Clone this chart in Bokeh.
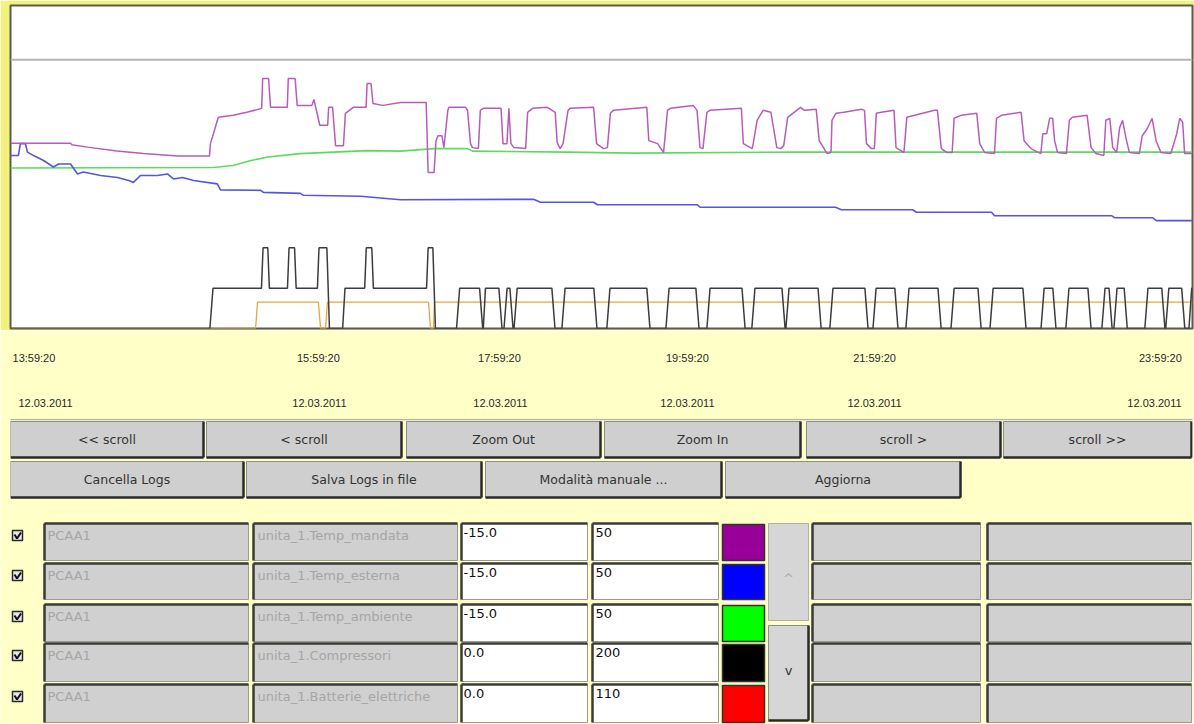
from bokeh.plotting import figure
from bokeh.layouts import column
from bokeh.models import Range1d, LinearAxis, FixedTicker, Span
from bokeh.embed import file_html
from bokeh.resources import INLINE
from bokeh.core.properties import value

# ---------------- data (x = minutes after 12.03.2011 13:59:20) ----------------
mandata_t = [0, 30.5, 31, 39, 54, 67.5, 85, 101, 101.5, 103, 105.5, 113, 120, 127.5, 128, 131, 132,
             140.5, 141, 144.5, 145.5, 153, 154, 157, 161, 161.5, 163.5, 165, 169, 170, 174, 180.5,
             181, 183, 184, 189, 198, 211, 212, 215, 216, 217, 219, 220, 222, 222.5, 231, 232,
             233.5, 234.5, 237.5, 238.5, 240, 249, 250, 252, 253, 254, 255.5, 261.5, 262.5, 265,
             272.5, 276.5, 277.5, 279, 280.5, 283, 284, 296, 297.5, 301, 303, 304.5, 306, 323,
             324, 328.5, 331.5, 333.5, 335, 346.5, 348.5, 350, 351.5, 353.5, 355, 371, 372, 376.5,
             377, 379, 382, 386, 389, 391, 392.5, 394.5, 401, 403, 409, 410.5, 413, 414.5, 416.5,
             417, 419, 423, 432, 433.5, 434.5, 437, 438.5, 439.5, 442, 448.5, 449.5, 452, 453.5,
             455, 459, 469, 470.5, 472.5, 475.5, 478, 479, 482.5, 490.5, 492, 494.5, 499.5, 500.5,
             503, 513, 514.5, 518, 523, 524, 526, 527.5, 529, 530, 531.5, 536, 537.5, 539, 546.5,
             548.5, 551, 555, 556, 558, 559.5, 561.5, 563, 564.5, 566.5, 568, 573, 574.5, 577,
             579.5, 581.5, 584, 589, 592, 593.5, 595, 596, 600]
mandata_v = [22.3, 22.3, 22.0, 21.5, 20.7, 20.2, 19.7, 19.7, 22.2, 24.2, 27.5, 27.9, 28.5, 29.3, 35.3, 35.3, 29.5,
             29.5, 35.3, 35.3, 29.9, 29.9, 31.1, 25.9, 25.9, 29.5, 29.5, 21.8, 21.8, 28.3, 29.5, 29.5,
             34.3, 34.3, 30.3, 29.9, 30.5, 30.5, 16.4, 16.4, 22.8, 23.8, 23.8, 21.4, 28.9, 29.5, 29.5, 28.9,
             22.2, 21.4, 21.2, 28.9, 29.3, 29.3, 22.2, 22.2, 29.3, 22.2, 21.4, 21.2, 28.5, 29.3,
             29.5, 28.5, 22.4, 21.2, 22.2, 28.9, 29.3, 29.5, 22.2, 21.2, 21.4, 28.3, 28.9, 29.5,
             22.8, 22.2, 20.4, 28.9, 29.3, 29.9, 28.9, 21.4, 21.2, 28.5, 28.9, 29.3, 22.2, 21.2,
             22.2, 26.9, 28.9, 28.5, 21.4, 21.2, 21.8, 27.5, 29.5, 28.9, 29.1, 22.8, 21.2, 20.2, 20.4,
             26.9, 28.3, 28.5, 29.1, 28.9, 22.2, 21.2, 21.2, 28.3, 28.5, 28.9, 21.4, 20.8, 20.4,
             27.5, 27.9, 28.9, 28.9, 21.2, 20.4, 20.4, 27.3, 27.9, 28.3, 22.2, 20.4, 20.2, 27.3,
             27.9, 28.5, 22.8, 21.2, 20.2, 24.2, 24.2, 27.3, 27.3, 22.8, 20.4, 20.2, 26.9, 27.5, 27.9,
             21.4, 20.2, 19.8, 26.9, 27.3, 21.4, 20.4, 25.4, 26.9, 22.8, 20.4, 20.2, 23.8, 25.2,
             27.3, 22.8, 20.4, 20.2, 24.2, 27.3, 26.5, 20.2, 20.2]

esterna_t = [0, 4, 5, 7.6, 8.6, 11.7, 16.8, 21.8, 24.4, 30.5, 34, 37, 45.7, 54.3, 60, 62.4, 66, 74.6,
             79.7, 82.7, 87.3, 92.9, 105, 106.6, 127, 128.4, 147.2, 148.7, 177.7, 198, 265.5, 269,
             296, 298, 348.7, 350, 418.8, 421.8, 457.9, 459.9, 498, 499.5, 558.9, 560.4, 579.7,
             581.7, 600]
esterna_v = [19.8, 19.8, 22.2, 22.2, 20.5, 19.8, 18.8, 17.5, 18.1, 18.1, 16.1, 16.5, 15.8, 15.4, 14.8,
             14.4, 15.8, 15.8, 16.1, 15.1, 15.4, 14.8, 14.1, 12.9, 12.8, 12.4, 12.2, 11.8, 11.6, 10.9,
             11.0, 10.4, 10.4, 9.9, 9.9, 9.4, 9.4, 8.9, 8.9, 8.4, 8.4, 7.7, 7.7, 7.3, 7.3, 6.7, 6.7]

ambiente_t = [0, 103, 113, 122, 130.5, 147, 164, 181, 198, 215, 232, 234.5, 283, 316, 401, 600]
ambiente_v = [17.3, 17.4, 17.8, 18.8, 19.5, 20.2, 20.5, 20.8, 20.7, 21.2, 21.2, 20.7, 20.5, 20.3, 20.5, 20.5]

compressori_t = [0, 101.2, 102.8, 127.4, 128.2, 130.6, 131.4, 140.6, 141.4, 144.2, 145.0, 155.8, 156.6,
                 160.6, 161.9, 168.6, 169.8, 179.8, 180.6, 183.4, 184.2, 211.2, 212.0, 214.4, 215.7,
                 226.4, 228.0, 238.1, 239.7, 240.0, 241.1, 247.9, 249.5, 250.5, 252.1, 253.5, 255.1,
                 255.6, 257.2, 274.8, 276.4, 279.9, 281.5, 296.1, 297.7, 302.7, 304.3, 323.0, 324.6,
                 332.7, 334.3, 347.9, 349.5, 353.5, 355.1, 371.3, 372.9, 376.3, 377.9, 391.6, 393.2,
                 393.6, 395.2, 409.9, 411.5, 415.9, 417.5, 433.7, 435.3, 437.8, 439.4, 448.9, 450.5,
                 454.5, 456.1, 470.8, 472.4, 477.4, 479.0, 491.1, 492.7, 497.2, 498.8, 513.9, 515.5,
                 523.1, 524.7, 529.1, 530.7, 535.7, 537.3, 546.9, 548.5, 554.0, 555.6, 557.6, 559.2,
                 560.1, 561.7, 565.3, 566.9, 575.8, 577.4, 584.4, 586.0, 586.4, 588.0, 594.5, 596.1,
                 598.2, 599.6, 600]
compressori_v = [0, 0, 25, 25, 50, 50, 25, 25, 50, 50, 25, 25, 50,
                 50, 0, 0, 25, 25, 50, 50, 25, 25, 50, 50, 0,
                 0, 25, 25, 0, 0, 25, 25, 0, 0, 25, 25, 0,
                 0, 25, 25, 0, 0, 25, 25, 0, 0, 25, 25, 0,
                 0, 25, 25, 0, 0, 25, 25, 0, 0, 25, 25, 0,
                 0, 25, 25, 0, 0, 25, 25, 0, 0, 25, 25, 0,
                 0, 25, 25, 0, 0, 25, 25, 0, 0, 25, 25, 0,
                 0, 25, 25, 0, 0, 25, 25, 0, 0, 25, 25, 0,
                 0, 25, 25, 0, 0, 25, 25, 0, 0, 25, 25, 0,
                 0, 25, 25]

batterie_t = [0, 124.4, 125.4, 156.3, 157.4, 159.9, 160.9, 212.2, 213.2, 214.7, 215.2, 600]
batterie_v = [0, 0, 9, 9, 0, 0, 9, 9, 0, 0, 9, 9]

upper_line_value = 39.1   # grey horizontal reference line (temperature scale)

time_tick_pos = [11.9, 156.3, 248.2, 343.6, 438.6, 583.7]
time_tick_labels = ["13:59:20", "15:59:20", "17:59:20", "19:59:20", "21:59:20", "23:59:20"]
date_tick_pos = [17.8, 156.8, 248.7, 343.6, 438.6, 580.7]
date_tick_labels = ["12.03.2011"] * 6

# table / legend content
sources = ["PCAA1"] * 5
var_names = ["unita_1.Temp_mandata", "unita_1.Temp_esterna", "unita_1.Temp_ambiente",
             "unita_1.Compressori", "unita_1.Batterie_elettriche"]
scale_min = ["-15.0", "-15.0", "-15.0", "0.0", "0.0"]
scale_max = ["50", "50", "50", "200", "110"]
swatch_colors = ["#990099", "#0000FF", "#00FF00", "#000000", "#FF0000"]
row1_buttons = ["<< scroll", "< scroll", "Zoom Out", "Zoom In", "scroll >", "scroll >>"]
row2_buttons = ["Cancella Logs", "Salva Logs in file", "Modalità manuale ...", "Aggiorna"]

# ---------------- styles ----------------
FONT = value("Liberation Sans")
UIFONT = value("DejaVu Sans")
PALE = "#FFFFC8"
BRIGHT = "#F3F27C"
line_colors = ["#B85CB8", "#5555E0", "#5ADC5A", "#3C3C3C", "#E6A83C"]
W = 1194
FRAME_L, FRAME_R = 10, 2   # shared left/right borders of all three panels

# ---------------- chart ----------------
p = figure(width=W, height=330, x_range=Range1d(0, 600), y_range=Range1d(-15, 50),
           x_axis_location=None, y_axis_location=None, toolbar_location=None,
           output_backend="svg", min_border_left=FRAME_L, min_border_right=FRAME_R,
           min_border_top=5, min_border_bottom=2,
           background_fill_color="white", border_fill_color=BRIGHT,
           outline_line_color="#5A5A5A", outline_line_width=2)
p.grid.visible = False
p.extra_y_ranges = {"comp": Range1d(0, 200), "batt": Range1d(0, 110)}

p.add_layout(Span(location=upper_line_value, dimension="width",
                  line_color="#B4B4B4", line_width=2))

p.line(ambiente_t, ambiente_v, color=line_colors[2], line_width=1.6)
p.line(esterna_t, esterna_v, color=line_colors[1], line_width=1.6)
p.line(mandata_t, mandata_v, color=line_colors[0], line_width=1.5)
p.line(batterie_t, batterie_v, color=line_colors[4], line_width=1.3, y_range_name="batt")
p.line(compressori_t, compressori_v, color=line_colors[3], line_width=1.5, y_range_name="comp")

# time axis strip (shares the chart's x range)
a = figure(width=W, height=88, x_range=p.x_range, y_range=Range1d(0, 1),
           x_axis_location=None, y_axis_location=None, toolbar_location=None,
           output_backend="svg", min_border_left=FRAME_L, min_border_right=FRAME_R,
           min_border_top=0, min_border_bottom=87,
           background_fill_color=PALE, border_fill_color=PALE, outline_line_color=None)
a.grid.visible = False


def time_axis(pos, labels, standoff):
    ax = LinearAxis(ticker=FixedTicker(ticks=pos, minor_ticks=[]),
                    major_label_overrides={k: v for k, v in zip(pos, labels)})
    ax.axis_line_color = None
    ax.major_tick_line_color = None
    ax.minor_tick_line_color = None
    ax.major_tick_out = 0
    ax.major_tick_in = 0
    ax.major_label_standoff = standoff
    ax.major_label_text_font = "Liberation Sans"
    ax.major_label_text_font_size = "11px"
    ax.major_label_text_color = "#2A2A2A"
    return ax


a.add_layout(time_axis(time_tick_pos, time_tick_labels, 20), "below")
a.add_layout(time_axis(date_tick_pos, date_tick_labels, 32), "below")

# ---------------- control panel (coordinates in screenshot pixels) ----------------
q = figure(width=W, height=306, x_range=Range1d(FRAME_L, W - FRAME_R), y_range=Range1d(724, 418),
           x_axis_location=None, y_axis_location=None, toolbar_location=None,
           output_backend="svg", min_border_left=FRAME_L, min_border_right=FRAME_R,
           min_border_top=0, min_border_bottom=0, background_fill_color=PALE,
           border_fill_color=PALE, outline_line_color=None)
q.grid.visible = False
q.segment(x0=6, y0=419, x1=W, y1=419, line_color="#B5B5A0", line_width=1.5)


def raised(l, r, t, b, fill="#CFCFCF"):
    q.quad(left=l, right=r, top=t, bottom=b, fill_color=fill, line_color="#8C8C8C", line_width=1)
    q.segment(x0=l, y0=b, x1=r, y1=b, line_color="#2A2A2A", line_width=2.5)
    q.segment(x0=r, y0=t, x1=r, y1=b, line_color="#2A2A2A", line_width=2.5)


def sunken(l, r, t, b, fill):
    q.quad(left=l, right=r, top=t, bottom=b, fill_color=fill, line_color="#9A9A9A", line_width=1)
    q.segment(x0=l, y0=t, x1=r, y1=t, line_color="#3A3A3A", line_width=2.5)
    q.segment(x0=l, y0=t, x1=l, y1=b, line_color="#3A3A3A", line_width=2.5)


b1_left = [10, 206, 406, 604, 806, 1003]
b1_right = [203, 401, 600, 800, 1000, 1191]
for l, r in zip(b1_left, b1_right):
    raised(l, r, 421, 457)
q.text(x=[(l + r) / 2 for l, r in zip(b1_left, b1_right)], y=[439] * 6, text=row1_buttons,
       text_font=UIFONT, text_font_size="12.5px", text_color="#333333",
       text_align="center", text_baseline="middle")

b2_left = [10, 246, 485, 725]
b2_right = [243, 481, 721, 960]
for l, r in zip(b2_left, b2_right):
    raised(l, r, 461, 497)
q.text(x=[(l + r) / 2 for l, r in zip(b2_left, b2_right)], y=[479] * 4, text=row2_buttons,
       text_font=UIFONT, text_font_size="12.5px", text_color="#333333",
       text_align="center", text_baseline="middle")

row_top = [523, 563, 604, 643, 684]
row_bot = [560, 599, 641, 681, 722]
for i, (t, b) in enumerate(zip(row_top, row_bot)):
    # checkbox
    q.quad(left=12, right=22, top=t + 7, bottom=t + 17, fill_color="#E8E8E8",
           line_color="#2A2A2A", line_width=1.5)
    q.line([14, 16.5, 20.5], [t + 11, t + 15, t + 9], line_color="#111111", line_width=2)
    sunken(44, 248, t, b, "#D0D0D0")
    sunken(253, 457, t, b, "#D0D0D0")
    sunken(461, 587, t, b, "#FFFFFF")
    sunken(592, 718, t, b, "#FFFFFF")
    q.quad(left=722, right=764, top=t + 1, bottom=b, fill_color=swatch_colors[i],
           line_color="#333333", line_width=1.5)
    sunken(812, 980, t, b, "#D0D0D0")
    sunken(987, 1191, t, b, "#D0D0D0")

q.text(x=[47] * 5, y=[t + 4 for t in row_top], text=sources, text_font=UIFONT,
       text_font_size="13px", text_color="#A6A6A6", text_baseline="top")
q.text(x=[257] * 5, y=[t + 4 for t in row_top], text=var_names, text_font=UIFONT,
       text_font_size="13px", text_color="#A6A6A6", text_baseline="top")
q.text(x=[463] * 5, y=[t + 4 for t in row_top], text=scale_min, text_font=UIFONT,
       text_font_size="13px", text_color="#111111", text_baseline="top")
q.text(x=[595] * 5, y=[t + 4 for t in row_top], text=scale_max, text_font=UIFONT,
       text_font_size="13px", text_color="#111111", text_baseline="top")

# scroll arrows
q.quad(left=768, right=808, top=523, bottom=620, fill_color="#D6D6D6", line_color="#B0B0B0")
raised(768, 808, 625, 720, "#D6D6D6")
q.text(x=[788, 788], y=[578, 670], text=["^", "v"], text_font=UIFONT, text_font_size="13px",
       text_color=["#A8A8A8", "#333333"], text_align="center", text_baseline="middle")

layout = column(p, a, q, spacing=0)
open("out.html", "w").write(file_html(layout, INLINE))
